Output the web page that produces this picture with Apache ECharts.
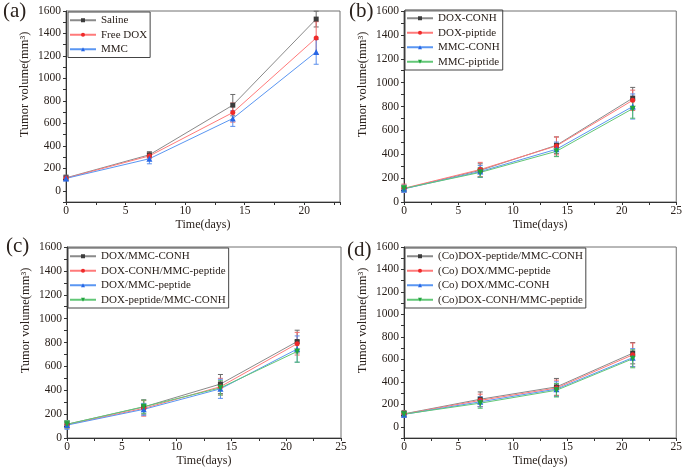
<!DOCTYPE html>
<html>
<head>
<meta charset="utf-8">
<script src="https://cdn.jsdelivr.net/npm/echarts@6/dist/echarts.min.js"></script>
<style>
html,body{margin:0;padding:0;background:#fff;}
#chart{width:685px;height:469px;}
</style>
</head>
<body>
<div id="chart"></div>
<script>
// ---------- data ----------
const days = [0, 7, 14, 21];

// (a)
const namesA = ['Saline', 'Free DOX', 'MMC'];
const salineMean = [115, 320, 762, 1528];
const salineErr = [25, 28, 95, 70];
const freeDoxMean = [112, 310, 696, 1360];
const freeDoxErr = [20, 25, 85, 145];
const mmcMean = [110, 285, 643, 1236];
const mmcErr = [20, 45, 70, 110];

// (b)
const namesB = ['DOX-CONH', 'DOX-piptide', 'MMC-CONH', 'MMC-piptide'];
const doxConhMean = [112, 265, 475, 870];
const doxConhErr = [30, 55, 70, 90];
const doxPiptideMean = [115, 272, 470, 852];
const doxPiptideErr = [35, 60, 75, 85];
const mmcConhMean = [110, 255, 442, 800];
const mmcConhErr = [30, 50, 60, 105];
const mmcPiptideMean = [113, 248, 425, 782];
const mmcPiptideErr = [25, 40, 45, 80];

// (c)
const namesC = ['DOX/MMC-CONH', 'DOX-CONH/MMC-peptide', 'DOX/MMC-peptide', 'DOX-peptide/MMC-CONH'];
const doxMmcConhMean = [115, 260, 452, 808];
const doxMmcConhErr = [30, 60, 80, 95];
const doxConhMmcPeptideMean = [112, 248, 430, 790];
const doxConhMmcPeptideErr = [30, 65, 70, 95];
const doxMmcPeptideMean = [108, 240, 412, 745];
const doxMmcPeptideErr = [35, 50, 80, 110];
const doxPeptideMmcConhMean = [115, 262, 420, 725];
const doxPeptideMmcConhErr = [30, 55, 60, 90];

// (d)
const namesD = ['(Co)DOX-peptide/MMC-CONH', '(Co) DOX/MMC-peptide', '(Co) DOX/MMC-CONH', '(Co)DOX-CONH/MMC-peptide'];
const coDoxPeptideMmcConhMean = [115, 245, 355, 655];
const coDoxPeptideMmcConhErr = [30, 65, 75, 95];
const coDoxMmcPeptideMean = [113, 235, 345, 640];
const coDoxMmcPeptideErr = [25, 55, 70, 105];
const coDoxMmcConhMean = [110, 222, 335, 615];
const coDoxMmcConhErr = [25, 45, 65, 80];
const coDoxConhMmcPeptideMean = [112, 210, 325, 605];
const coDoxConhMmcPeptideErr = [20, 45, 60, 80];

const panelLabels = ['(a)', '(b)', '(c)', '(d)'];
const xTitle = 'Time(days)';
const yTitle = 'Tumor volume(mm³)';

// ---------- styling ----------
const FONT = '"Liberation Serif", "DejaVu Serif", serif';
const TXT = '#2a211c';
const styles = [
  { line: '#8a8a8a', mark: '#3c3c3c', err: '#6a6a6a', symbol: 'rect', size: 5 },
  { line: '#ff7a7a', mark: '#ee2a2a', err: '#f26a6a', symbol: 'circle', size: 5 },
  { line: '#5a96f2', mark: '#2767e6', err: '#5b8fec', symbol: 'triangle', size: 6 },
  { line: '#62c777', mark: '#22a53e', err: '#55bb6a', symbol: 'path://M0,0 L10,0 L5,9 Z', size: 6 }
];

const panels = [
  { names: namesA, means: [salineMean, freeDoxMean, mmcMean], errs: [salineErr, freeDoxErr, mmcErr],
    grid: { left: 66, top: 11, width: 274, height: 191 }, ymin: -100, xmax: 23,
    legend: { left: 68, top: 12 }, label: { left: 3, top: 1 } },
  { names: namesB, means: [doxConhMean, doxPiptideMean, mmcConhMean, mmcPiptideMean],
    errs: [doxConhErr, doxPiptideErr, mmcConhErr, mmcPiptideErr],
    grid: { left: 404, top: 11, width: 273, height: 191 }, ymin: 0, xmax: 25,
    legend: { left: 405, top: 10 }, label: { left: 349, top: 1 } },
  { names: namesC, means: [doxMmcConhMean, doxConhMmcPeptideMean, doxMmcPeptideMean, doxPeptideMmcConhMean],
    errs: [doxMmcConhErr, doxConhMmcPeptideErr, doxMmcPeptideErr, doxPeptideMmcConhErr],
    grid: { left: 67, top: 247, width: 274, height: 191 }, ymin: 0, xmax: 25,
    legend: { left: 68, top: 248 }, label: { left: 6, top: 236 } },
  { names: namesD, means: [coDoxPeptideMmcConhMean, coDoxMmcPeptideMean, coDoxMmcConhMean, coDoxConhMmcPeptideMean],
    errs: [coDoxPeptideMmcConhErr, coDoxMmcPeptideErr, coDoxMmcConhErr, coDoxConhMmcPeptideErr],
    grid: { left: 404, top: 247, width: 274, height: 191 }, ymin: -100, xmax: 25,
    legend: { left: 405, top: 248 }, label: { left: 347, top: 240 } }
];

function errRender(params, api) {
  const x = api.value(0), lo = api.value(1), hi = api.value(2);
  const pHi = api.coord([x, hi]);
  const pLo = api.coord([x, lo]);
  const w = 2.5;
  const style = { stroke: api.visual('color'), lineWidth: 1 };
  return {
    type: 'group',
    children: [
      { type: 'line', shape: { x1: pHi[0], y1: pHi[1], x2: pLo[0], y2: pLo[1] }, style: style },
      { type: 'line', shape: { x1: pHi[0] - w, y1: pHi[1], x2: pHi[0] + w, y2: pHi[1] }, style: style },
      { type: 'line', shape: { x1: pLo[0] - w, y1: pLo[1], x2: pLo[0] + w, y2: pLo[1] }, style: style }
    ]
  };
}

const option = {
  backgroundColor: '#fff',
  animation: false,
  title: [], grid: [], xAxis: [], yAxis: [], legend: [], series: []
};

panels.forEach((p, gi) => {
  option.title.push({
    text: panelLabels[gi], left: p.label.left, top: p.label.top, padding: 0,
    textStyle: { fontFamily: FONT, fontSize: 21, fontWeight: 'normal', color: TXT }
  });
  option.grid.push(Object.assign({ show: true, borderColor: '#707070', borderWidth: 1, backgroundColor: 'transparent' }, p.grid));
  option.xAxis.push({
    type: 'value', gridIndex: gi, min: 0, max: p.xmax, interval: 2.5,
    name: xTitle, nameLocation: 'middle', nameGap: 17,
    nameTextStyle: { fontFamily: FONT, fontSize: 12, color: TXT },
    axisLine: { onZero: false, lineStyle: { color: '#333', width: 1 } },
    axisTick: { show: true, length: 3, lineStyle: { color: '#333' } },
    splitLine: { show: false },
    axisLabel: {
      fontFamily: FONT, fontSize: 11.5, color: TXT, margin: 3,
      formatter: v => (Math.abs(v % 5) < 1e-9 ? String(v) : '')
    }
  });
  option.yAxis.push({
    type: 'value', gridIndex: gi, min: p.ymin, max: 1600, interval: 100,
    name: yTitle, nameLocation: 'middle', nameGap: 35, nameRotate: 90,
    nameTextStyle: { fontFamily: FONT, fontSize: 12.5, color: TXT, padding: [0, 0, 0, 44] },
    axisLine: { onZero: false, lineStyle: { color: '#333', width: 1 } },
    axisTick: { show: true, length: 3, lineStyle: { color: '#333' } },
    splitLine: { show: false },
    axisLabel: {
      fontFamily: FONT, fontSize: 11.5, color: TXT, margin: 5,
      formatter: v => (v >= 0 && v % 200 === 0 ? String(v) : '')
    }
  });
  option.legend.push({
    data: p.names, left: p.legend.left, top: p.legend.top, orient: 'vertical', align: 'left',
    borderColor: '#444', borderWidth: 1, padding: [1, 3, 1, 1], itemGap: 0,
    itemWidth: 26, itemHeight: 5,
    textStyle: { fontFamily: FONT, fontSize: 11, color: TXT, lineHeight: 14.5 }
  });
  p.names.forEach((nm, si) => {
    const st = styles[si];
    option.series.push({
      type: 'custom', name: nm + ' err', xAxisIndex: gi, yAxisIndex: gi,
      renderItem: errRender, itemStyle: { color: st.err }, z: 1, silent: true,
      encode: { x: 0, y: [1, 2] },
      data: days.map((d, k) => [d, p.means[si][k] - p.errs[si][k], p.means[si][k] + p.errs[si][k]])
    });
  });
  p.names.forEach((nm, si) => {
    const st = styles[si];
    option.series.push({
      type: 'line', name: nm, xAxisIndex: gi, yAxisIndex: gi, z: 3,
      symbol: st.symbol, symbolSize: st.size, showSymbol: true,
      lineStyle: { color: st.line, width: 1 },
      itemStyle: { color: st.mark, borderWidth: 0 },
      data: days.map((d, k) => [d, p.means[si][k]])
    });
  });
});

const chart = echarts.init(document.getElementById('chart'), null, { renderer: 'canvas' });
chart.setOption(option);
</script>
</body>
</html>
